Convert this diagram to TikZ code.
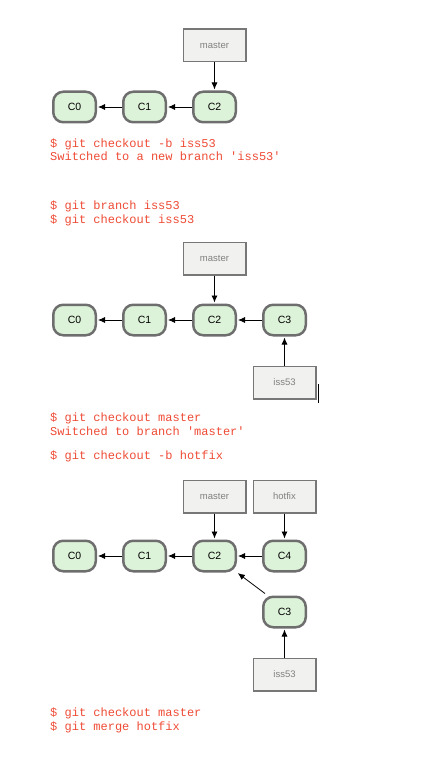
\documentclass[tikz,border=0pt]{standalone}
\usepackage{fontspec}
\newfontfamily\labelfont{Liberation Sans}
\newfontfamily\shellfont{Liberation Mono}
\usepackage{xcolor}
\usetikzlibrary{positioning,arrows.meta}
\definecolor{commitfill}{HTML}{DDF3D9}
\definecolor{commitline}{HTML}{6E6E6E}
\definecolor{reffill}{HTML}{F1F1EF}
\definecolor{refline}{HTML}{777777}
\definecolor{reftext}{HTML}{808080}
\definecolor{shellred}{HTML}{EE4B35}

\begin{document}
\begin{tikzpicture}[x=1pt, y=-1pt, >={Latex[length=7pt,width=6pt]},
  commit/.style={draw=commitline, line width=2.5pt, fill=commitfill, rounded corners=10pt,
    minimum width=42.5pt, minimum height=30.5pt, inner sep=0pt,
    font=\labelfont\fontsize{10.5}{12}\selectfont},
  ref/.style={draw=refline, line width=1.5pt, fill=reffill, minimum width=62.5pt,
    minimum height=32.5pt, inner sep=0pt, text=reftext,
    font=\labelfont\fontsize{9.5}{11}\selectfont},
  shell/.style={anchor=base west, inner sep=0pt, text=shellred,
    font=\shellfont\fontsize{12}{13.5}\selectfont},
  link/.style={->, line width=0.8pt, shorten >=1pt}]
  \useasboundingbox (0,0) rectangle (434,767);

  % first state: three commits, master on C2
  \node[commit] (a0) at (74.5,107) {C0};
  \node[commit, right=25pt of a0] (a1) {C1};
  \node[commit, right=25pt of a1] (a2) {C2};
  \node[ref, above=28pt of a2] (amaster) {master};
  \draw[link] (a1) -- (a0);
  \draw[link] (a2) -- (a1);
  \draw[link] (amaster) -- (a2);

  % commands between first and second state
  \node[shell] (cmd1) at (50,147.5) {\$ git checkout -b iss53};
  \node[shell] (out1) at (50,161) {Switched to a new branch 'iss53'};
  \node[shell] (cmd2) at (50,209.5) {\$ git branch iss53};
  \node[shell] (cmd3) at (50,223) {\$ git checkout iss53};

  % second state: iss53 moved on to C3
  \node[commit] (b0) at (74.5,320) {C0};
  \node[commit, right=25pt of b0] (b1) {C1};
  \node[commit, right=25pt of b1] (b2) {C2};
  \node[commit, right=25pt of b2] (b3) {C3};
  \node[ref, above=28pt of b2] (bmaster) {master};
  \node[ref, below=29pt of b3] (biss) {iss53};
  \draw[link] (b1) -- (b0);
  \draw[link] (b2) -- (b1);
  \draw[link] (b3) -- (b2);
  \draw[link] (bmaster) -- (b2);
  \draw[link] (biss) -- (b3);
  \draw[line width=0.8pt] (318,384) -- (318,403);

  % commands between second and third state
  \node[shell] (cmd4) at (50,421.5) {\$ git checkout master};
  \node[shell] (out4) at (50,435) {Switched to branch 'master'};
  \node[shell] (cmd5) at (50,459.5) {\$ git checkout -b hotfix};

  % third state: hotfix on C4, iss53 on C3
  \node[commit] (c0) at (74.5,556) {C0};
  \node[commit, right=25pt of c0] (c1) {C1};
  \node[commit, right=25pt of c1] (c2) {C2};
  \node[commit, right=25pt of c2] (c4) {C4};
  \node[commit, below=23pt of c4] (c3) {C3};
  \node[ref, above=26pt of c2] (cmaster) {master};
  \node[ref, above=26pt of c4] (chotfix) {hotfix};
  \node[ref, below=29pt of c3] (ciss) {iss53};
  \draw[link] (c1) -- (c0);
  \draw[link] (c2) -- (c1);
  \draw[link] (c4) -- (c2);
  \draw[link] ([shift={(3pt,2pt)}]c3.north west) -- (c2.south east);
  \draw[link] (cmaster) -- (c2);
  \draw[link] (chotfix) -- (c4);
  \draw[link] (ciss) -- (c3);

  % last commands
  \node[shell] (cmd6) at (50,716.5) {\$ git checkout master};
  \node[shell] (cmd7) at (50,730.5) {\$ git merge hotfix};
\end{tikzpicture}
\end{document}
